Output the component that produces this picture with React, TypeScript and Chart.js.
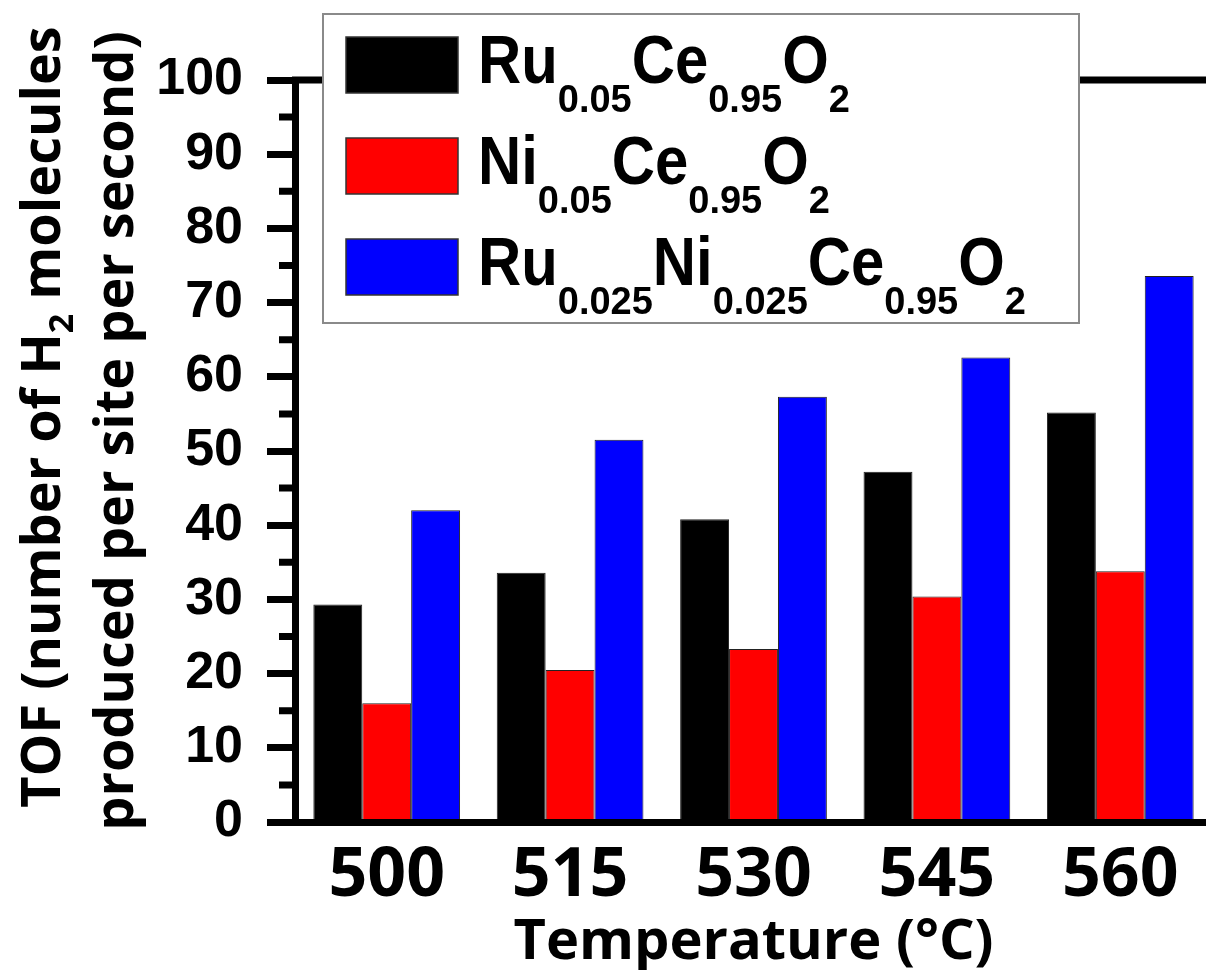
import React, { useEffect, useRef } from 'react';
import { Chart, registerables } from 'chart.js';

Chart.register(...registerables);

// ---------------- data ----------------
const categories = ['500', '515', '530', '545', '560'];
const ruCeValues = [29.3, 33.6, 40.8, 47.2, 55.2];
const niCeValues = [16.0, 20.5, 23.3, 30.4, 33.8];
const ruNiCeValues = [42.0, 51.5, 57.3, 62.6, 73.6];
const seriesLabels = ['Ru0.05Ce0.95O2', 'Ni0.05Ce0.95O2', 'Ru0.025Ni0.025Ce0.95O2'];
const seriesColors = ['#000000', '#ff0000', '#0000ff'];
const yMin = 0;
const yMax = 100;
const yStep = 10;
const xTitle = 'Temperature (°C)';
const yTitleLine1 = [
  { text: 'TOF (number of H', sub: false },
  { text: '2', sub: true },
  { text: ' molecules', sub: false },
];
const yTitleLine2 = 'produced per site per second)';

// ---------------- layout constants ----------------
const CANVAS_W = 1230;
const CANVAS_H = 970;
const AREA_RIGHT = 1212;
const AXIS_W = 7;

function formulaParts(label: string) {
  const out: { text: string; sub: boolean }[] = [];
  const re = /[0-9.]+|[^0-9.]+/g;
  let m: RegExpExecArray | null;
  while ((m = re.exec(label))) {
    out.push({ text: m[0], sub: /^[0-9.]+$/.test(m[0]) });
  }
  return out;
}

function drawScaledText(ctx: CanvasRenderingContext2D, text: string, x: number, y: number, sx: number) {
  ctx.save();
  ctx.translate(x, y);
  ctx.scale(sx, 1);
  ctx.fillText(text, 0, 0);
  ctx.restore();
  return ctx.measureText(text).width * sx;
}

const decorPlugin = {
  id: 'decor',
  afterDraw(chart: any) {
    const { ctx, chartArea: a, scales } = chart;
    const ys = scales.y;
    ctx.save();
    ctx.strokeStyle = '#000';
    ctx.lineWidth = AXIS_W;
    ctx.lineCap = 'butt';
    // top frame line
    ctx.beginPath();
    ctx.moveTo(a.left - 3, a.top);
    ctx.lineTo(a.right, a.top);
    ctx.stroke();
    // minor ticks
    ctx.beginPath();
    for (let v = yMin + yStep / 2; v < yMax; v += yStep) {
      const py = ys.getPixelForValue(v);
      ctx.moveTo(a.left, py);
      ctx.lineTo(a.left - 16, py);
    }
    ctx.stroke();

    // x title
    ctx.fillStyle = '#000';
    ctx.textBaseline = 'alphabetic';
    ctx.textAlign = 'center';
    ctx.font = 'bold 56px "Open Sans"';
    ctx.fillText(xTitle, (a.left + a.right) / 2, 959);

    // y title (rotated)
    ctx.textAlign = 'left';
    const mainFont = 'bold 54px "Open Sans"';
    const subFont = 'bold 34px "Open Sans"';
    ctx.save();
    ctx.translate(60, 417);
    ctx.rotate(-Math.PI / 2);
    let total = 0;
    for (const p of yTitleLine1) {
      ctx.font = p.sub ? subFont : mainFont;
      total += ctx.measureText(p.text).width;
    }
    let cx = -total / 2;
    for (const p of yTitleLine1) {
      ctx.font = p.sub ? subFont : mainFont;
      ctx.fillText(p.text, cx, p.sub ? 13 : 0);
      cx += ctx.measureText(p.text).width;
    }
    ctx.restore();
    ctx.save();
    ctx.translate(133, 431);
    ctx.rotate(-Math.PI / 2);
    ctx.font = mainFont;
    const w2 = ctx.measureText(yTitleLine2).width;
    ctx.fillText(yTitleLine2, -w2 / 2, 0);
    ctx.restore();

    // legend
    const lx = 323, ly = 14, lw = 756, lh = 309;
    ctx.fillStyle = '#fff';
    ctx.fillRect(lx, ly, lw, lh);
    ctx.strokeStyle = '#8a8a8a';
    ctx.lineWidth = 2;
    ctx.strokeRect(lx, ly, lw, lh);
    chart.data.datasets.forEach((ds: any, i: number) => {
      const top = 37 + i * 101;
      ctx.fillStyle = ds.backgroundColor;
      ctx.fillRect(346, top, 112, 56);
      ctx.strokeStyle = '#333';
      ctx.lineWidth = 1.5;
      ctx.strokeRect(346, top, 112, 56);
      const baseline = top + 46;
      let tx = 478;
      ctx.fillStyle = '#000';
      for (const p of formulaParts(ds.label)) {
        if (p.sub) {
          ctx.font = 'bold 38px "Liberation Sans", Arial, sans-serif';
          tx += drawScaledText(ctx, p.text, tx, baseline + 29, 1);
        } else {
          ctx.font = 'bold 68px "Liberation Sans", Arial, sans-serif';
          tx += drawScaledText(ctx, p.text, tx, baseline, 0.88);
        }
      }
    });
    ctx.restore();
  },
};

export default function App() {
  const ref = useRef<HTMLCanvasElement | null>(null);
  useEffect(() => {
    if (!ref.current) return;
    const chart = new Chart(ref.current, {
      type: 'bar',
      data: {
        labels: categories,
        datasets: [ruCeValues, niCeValues, ruNiCeValues].map((vals, i) => ({
          label: seriesLabels[i],
          data: vals,
          backgroundColor: seriesColors[i],
          borderColor: '#222',
          borderWidth: 1,
          barPercentage: 1,
          categoryPercentage: 0.8,
        })),
      },
      options: {
        responsive: false,
        animation: false,
        layout: { padding: { left: 0, right: CANVAS_W - AREA_RIGHT, top: 80, bottom: 0 } },
        plugins: { legend: { display: false }, tooltip: { enabled: false } },
        scales: {
          x: {
            type: 'category',
            grid: { display: false, drawTicks: false, tickLength: 0 },
            border: { display: true, color: '#000', width: AXIS_W, z: 1 },
            ticks: {
              color: '#000',
              padding: 14,
              maxRotation: 0,
              font: { family: '"Open Sans", sans-serif', weight: 'bold', size: 68 },
            },
            afterFit: (s: any) => {
              s.height = 148;
            },
          },
          y: {
            min: yMin,
            max: yMax,
            ticks: {
              stepSize: yStep,
              color: '#000',
              padding: 24,
              font: { family: '"Liberation Sans", Arial, sans-serif', weight: 'bold', size: 52 },
            },
            grid: { drawOnChartArea: false, drawTicks: true, tickLength: 28, tickWidth: AXIS_W, tickColor: '#000' },
            border: { display: true, color: '#000', width: AXIS_W, z: 1 },
            afterFit: (s: any) => {
              s.width = 295;
            },
          },
        },
      },
      plugins: [decorPlugin],
    } as any);
    return () => chart.destroy();
  }, []);
  return (
    <div style={{ position: 'fixed', left: 0, top: 0, width: 1206, height: 970, overflow: 'hidden', background: '#fff' }}>
      <canvas ref={ref} width={CANVAS_W} height={CANVAS_H} style={{ display: 'block' }} />
    </div>
  );
}
